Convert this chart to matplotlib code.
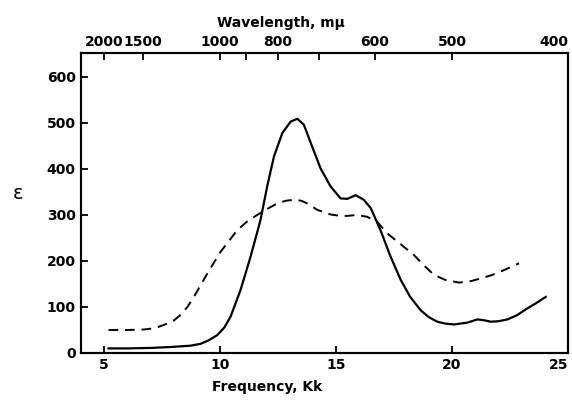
import matplotlib

matplotlib.use("Agg")
import matplotlib.pyplot as plt

# solid curve
solid_freq = [5.2, 6.0, 7.0, 7.87, 8.75, 9.17, 9.5, 9.89, 10.2, 10.46, 10.89, 11.32,
              11.75, 12.05, 12.33, 12.69, 13.05, 13.34, 13.62, 13.98, 14.34, 14.77,
              15.2, 15.49, 15.85, 16.2, 16.5, 16.92, 17.35, 17.79, 18.2, 18.65, 19.0,
              19.37, 19.7, 20.09, 20.66, 21.1, 21.4, 21.67, 22.0, 22.39, 22.8, 23.25,
              23.65, 24.04]
solid_eps = [10, 10, 11, 13, 16, 20, 27, 39, 56, 79, 137, 209,
             289, 365, 427, 478, 503, 509, 496, 448, 401, 362,
             336, 335, 343, 333, 315, 267, 210, 159, 122, 93, 78,
             68, 64, 62, 66, 73, 71, 68, 69, 73, 82, 97,
             109, 122]

# dashed curve
dash_freq = [5.2, 6.0, 6.72, 7.2, 7.59, 8.0, 8.31, 8.6, 8.88, 9.46, 10.03, 10.75,
             11.2, 11.61, 12.0, 12.47, 12.85, 13.19, 13.5, 13.77, 14.2, 14.77, 15.2,
             15.49, 15.92, 16.35, 16.78, 17.21, 17.8, 18.36, 18.8, 19.22, 19.7, 20.3,
             20.8, 21.24, 21.7, 22.1, 22.5, 22.89]
dash_eps = [50, 50, 51, 54, 61, 70, 83, 100, 122, 173, 220, 267,
            287, 300, 312, 325, 331, 333, 331, 325, 311, 301, 298,
            298, 300, 296, 285, 260, 236, 213, 190, 170, 159, 153,
            156, 162, 169, 177, 186, 195]

freq_ticks = [5, 10, 15, 20, 25]
eps_ticks = [0, 100, 200, 300, 400, 500, 600]
wl_ticks = [2000, 1500, 1000, 900, 800, 700, 600, 500, 400]
wl_labels = ["2000", "1500", "1000", "", "800", "", "600", "500", "400"]

plt.rcParams["font.family"] = "DejaVu Sans"
fig = plt.figure(figsize=(5.72, 4.0), dpi=100)
ax = fig.add_axes([0.141, 0.1175, 0.852, 0.75])

ax.plot(solid_freq, solid_eps, color="black", lw=1.6)
ax.plot(dash_freq, dash_eps, color="black", lw=1.4, ls=(0, (5, 3.5)))

ax.set_xlim(4.0, 25)
ax.set_ylim(0, 652)
ax.set_xticks(freq_ticks)
ax.set_yticks(eps_ticks)
for s in ax.spines.values():
    s.set_linewidth(1.5)
ax.tick_params(direction="in", length=5, width=1.3, labelsize=10)
for lab in ax.get_xticklabels() + ax.get_yticklabels():
    lab.set_fontweight("bold")
ax.get_xticklabels()[-1].set_horizontalalignment("right")

ax.set_xlabel("Frequency, Kk", fontsize=10, fontweight="bold", x=0.382, labelpad=6)
ax.set_ylabel("ε", fontsize=14, rotation=0)
ax.yaxis.set_label_coords(-0.128, 0.5)

top = ax.twiny()
top.set_xlim(ax.get_xlim())
top.set_xticks([1e4 / w for w in wl_ticks])
top.set_xticklabels(wl_labels)
top.tick_params(direction="in", length=5, width=1.3, labelsize=10, pad=3)
for lab in top.get_xticklabels():
    lab.set_fontweight("bold")
top.get_xticklabels()[-1].set_horizontalalignment("right")
top.set_xlabel("Wavelength, mμ", fontsize=10, fontweight="bold", x=0.41, labelpad=6)
for s in top.spines.values():
    s.set_linewidth(1.5)

fig.savefig("out.png", dpi=100)
